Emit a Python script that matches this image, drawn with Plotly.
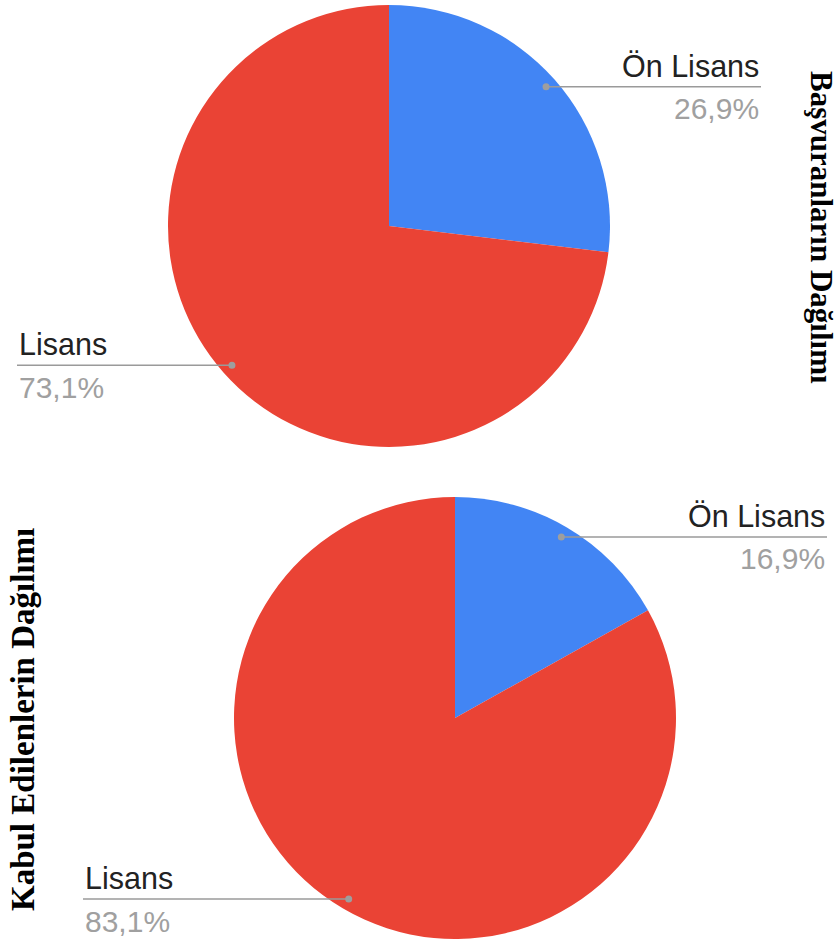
import math
import plotly.graph_objects as go

# data
categories = ["Ön Lisans", "Lisans"]
basvuran_pct = [26.9, 73.1]
kabul_pct = [16.9, 83.1]
titles = ["Başvuranların Dağılımı", "Kabul Edilenlerin Dağılımı"]
colors = ["#4285F4", "#EA4335"]

W, H = 838, 941
PIE_R = 221
centers = [(389, 226), (455, 718)]  # pie centres in px
LABEL_DX = 372  # label text edge, from pie centre
DOT_R = 3.5

fig = go.Figure()


def fmt(v):
    return f"{v:.1f}".replace(".", ",") + "%"


for vals, (cx, cy) in zip([basvuran_pct, kabul_pct], centers):
    fig.add_trace(go.Pie(
        labels=categories,
        values=vals,
        sort=False,
        direction="clockwise",
        rotation=0,
        marker=dict(colors=colors, line=dict(width=0)),
        textinfo="none",
        hoverinfo="label+percent",
        showlegend=False,
        domain=dict(x=[(cx - PIE_R) / W, (cx + PIE_R) / W],
                    y=[1 - (cy + PIE_R) / H, 1 - (cy - PIE_R) / H]),
    ))

    # leader lines + labels, placed from the slice mid angles
    total = sum(vals)
    start = 0.0
    for cat, v in zip(categories, vals):
        mid = (start + v / 2) / total * 2 * math.pi
        start += v
        dx, dy = math.sin(mid), -math.cos(mid)
        px, py = cx + 0.95 * PIE_R * dx, cy + 0.95 * PIE_R * dy
        right = dx > 0
        edge = cx + LABEL_DX if right else cx - LABEL_DX
        # shapes sit above the pie layer, scatter traces would be hidden under it
        fig.add_shape(type="line", x0=px, y0=py, x1=edge, y1=py,
                      xref="x", yref="y", layer="above",
                      line=dict(color="#9a9a9a", width=1.5))
        fig.add_shape(type="circle", x0=px - DOT_R, y0=py - DOT_R,
                      x1=px + DOT_R, y1=py + DOT_R,
                      xref="x", yref="y", layer="above",
                      fillcolor="#9e9e9e", line=dict(width=0))
        anchor = "right" if right else "left"
        fig.add_annotation(x=edge, y=py - 21, xref="x", yref="y", text=cat,
                           showarrow=False, xanchor=anchor, yanchor="middle",
                           font=dict(family="Liberation Sans", size=30.5, color="#222222"))
        fig.add_annotation(x=edge, y=py + 22, xref="x", yref="y", text=fmt(v),
                           showarrow=False, xanchor=anchor, yanchor="middle",
                           font=dict(family="Liberation Sans", size=30, color="#a0a0a0"))

# rotated titles
fig.add_annotation(x=822, y=227, xref="x", yref="y", text=titles[0],
                   showarrow=False, textangle=90, xanchor="center", yanchor="middle",
                   font=dict(family="Liberation Serif", size=31, color="#000000", weight="bold"))
fig.add_annotation(x=23, y=720, xref="x", yref="y", text=titles[1],
                   showarrow=False, textangle=-90, xanchor="center", yanchor="middle",
                   font=dict(family="Liberation Serif", size=33, color="#000000", weight="bold"))

fig.update_layout(
    width=W, height=H,
    margin=dict(l=0, r=0, t=0, b=0),
    paper_bgcolor="white", plot_bgcolor="rgba(0,0,0,0)",
    xaxis=dict(range=[0, W], visible=False, fixedrange=True, domain=[0, 1]),
    yaxis=dict(range=[H, 0], visible=False, fixedrange=True, domain=[0, 1]),
)

# drop the default 8px page margin so the figure fills the window
fig.write_html("out.html", config={"displayModeBar": False},
               post_script="document.body.style.margin='0';")
